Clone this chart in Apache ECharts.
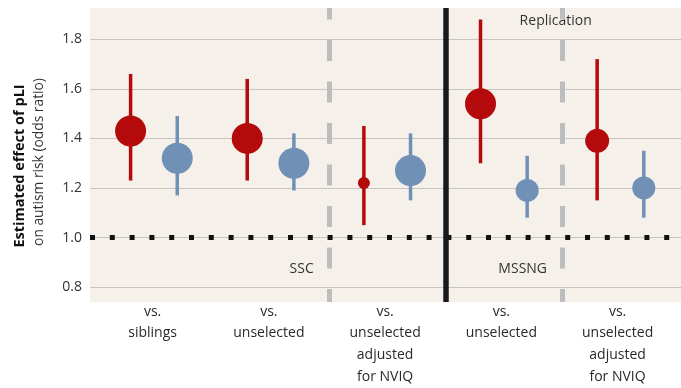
<!DOCTYPE html>
<html><head><meta charset="utf-8">
<script src="https://cdn.jsdelivr.net/npm/echarts@6/dist/echarts.min.js"></script>
<style>html,body{margin:0;padding:0;background:#fff}#c{width:681px;height:388px}</style>
</head><body><div id="c"></div>
<script>
// ---- data ----
const categories = ['vs.\nsiblings', 'vs.\nunselected', 'vs.\nunselected\nadjusted\nfor NVIQ', 'vs.\nunselected', 'vs.\nunselected\nadjusted\nfor NVIQ'];
const redEst  = [1.43, 1.40, 1.22, 1.54, 1.39];
const redLow  = [1.23, 1.23, 1.05, 1.30, 1.15];
const redHigh = [1.66, 1.64, 1.45, 1.88, 1.72];
const blueEst  = [1.32, 1.30, 1.27, 1.19, 1.20];
const blueLow  = [1.17, 1.19, 1.15, 1.08, 1.08];
const blueHigh = [1.49, 1.42, 1.42, 1.33, 1.35];
const yTicks = [0.8, 1.0, 1.2, 1.4, 1.6, 1.8];
const referenceValue = 1.0;
const dashedSeparators = [1.5, 3.5];
const solidSeparators = [2.5];

// ---- styles / layout ----
const Y_MIN = 0.74, Y_MAX = 1.926;
const OFFSET = 0.2;
const redDotSize  = [31, 31, 12, 31, 24];
const blueDotSize = [31, 31, 31, 23, 23];
const RED = '#b40a0c', BLUE = '#7090b6';
const FONT = '"Open Sans", "Noto Sans", sans-serif';

function buildSeriesData(est, low, high, shift) {
  return est.map((v, i) => [i + shift, v, low[i], high[i]]);
}
function makeRender(color, sizes) {
  return function (params, api) {
    const x = api.value(0);
    const p = api.coord([x, api.value(1)]);
    const lo = api.coord([x, api.value(2)]);
    const hi = api.coord([x, api.value(3)]);
    const r = sizes[params.dataIndex] / 2;
    return {
      type: 'group',
      children: [
        { type: 'line', shape: { x1: p[0], y1: lo[1], x2: p[0], y2: hi[1] }, style: { stroke: color, lineWidth: 3.5 } },
        { type: 'circle', shape: { cx: p[0], cy: p[1], r: r }, style: { fill: color } }
      ]
    };
  };
}

const gridLineData = yTicks.map(v => ({ yAxis: v }));
const sepData = [];
dashedSeparators.forEach(x => sepData.push([
  { coord: [x, Y_MAX], lineStyle: { color: '#bdbdbd', width: 5, type: [21, 20.5], dashOffset: 9.5, cap: 'butt' } },
  { coord: [x, Y_MIN] }
]));
solidSeparators.forEach(x => sepData.push([
  { coord: [x, Y_MAX], lineStyle: { color: '#1a1a1a', width: 5.5, type: 'solid' } },
  { coord: [x, Y_MIN] }
]));

const chart = echarts.init(document.getElementById('c'), null, { renderer: 'canvas' });
chart.setOption({
  animation: false,
  grid: [
    { left: 90, right: 0, top: 8, bottom: 86, show: true, backgroundColor: '#f5f1ea', borderWidth: 0, containLabel: false },
    { left: 95.6, right: 2.2, top: 8, bottom: 86, containLabel: false },
    { left: 94.5, right: 5.3, top: 8, bottom: 86, containLabel: false }
  ],
  xAxis: [
    { gridIndex: 0, type: 'value', min: 0, max: 1, show: false },
    { gridIndex: 1, type: 'value', min: -0.5, max: 4.5, show: false },
    { gridIndex: 2, type: 'category', position: 'bottom', data: categories, boundaryGap: true,
      axisLine: { show: false }, axisTick: { show: false }, splitLine: { show: false },
      axisLabel: { interval: 0, margin: 8, lineHeight: 21.8, fontSize: 14, color: '#2a2a2a', fontFamily: FONT } }
  ],
  yAxis: [
    { gridIndex: 0, type: 'value', min: Y_MIN, max: Y_MAX,
      splitLine: { show: false }, axisLine: { show: false }, axisTick: { show: false },
      axisLabel: { margin: 8, fontSize: 14, color: '#333', fontFamily: FONT,
        formatter: v => yTicks.some(t => Math.abs(t - v) < 1e-6) ? v.toFixed(1) : '' } },
    { gridIndex: 1, type: 'value', min: Y_MIN, max: Y_MAX, show: false },
    { gridIndex: 2, type: 'value', min: Y_MIN, max: Y_MAX, show: false }
  ],
  series: [
    { type: 'line', xAxisIndex: 0, yAxisIndex: 0, data: [], z: 1, silent: true,
      markLine: { silent: true, symbol: 'none', label: { show: false }, animation: false,
        lineStyle: { color: '#c8c4be', width: 1.2, type: 'solid' },
        data: gridLineData.concat([{ yAxis: referenceValue, lineStyle: { color: '#111', width: 5, type: [5, 14.8], cap: 'butt' } }]) } },
    { type: 'line', xAxisIndex: 1, yAxisIndex: 1, data: [], z: 2, silent: true,
      markLine: { silent: true, symbol: 'none', label: { show: false }, animation: false, data: sepData } },
    { type: 'custom', name: 'red', xAxisIndex: 1, yAxisIndex: 1, z: 5,
      data: buildSeriesData(redEst, redLow, redHigh, -OFFSET), renderItem: makeRender(RED, redDotSize) },
    { type: 'custom', name: 'blue', xAxisIndex: 1, yAxisIndex: 1, z: 5,
      data: buildSeriesData(blueEst, blueLow, blueHigh, OFFSET), renderItem: makeRender(BLUE, blueDotSize) }
  ],
  graphic: [
    { type: 'text', x: 20, y: 166, rotation: Math.PI / 2,
      style: { text: 'Estimated effect of pLI', fontSize: 14.5, fontWeight: 'bold', fontFamily: FONT, fill: '#111', align: 'center', verticalAlign: 'middle' } },
    { type: 'text', x: 39, y: 162, rotation: Math.PI / 2,
      style: { text: 'on autism risk (odds ratio)', fontSize: 13.8, fontFamily: FONT, fill: '#333', align: 'center', verticalAlign: 'middle' } },
    { type: 'text', x: 301.7, y: 269, style: { text: 'SSC', fontSize: 14, fontFamily: FONT, fill: '#333', align: 'center', verticalAlign: 'middle' } },
    { type: 'text', x: 522.7, y: 269, style: { text: 'MSSNG', fontSize: 14, fontFamily: FONT, fill: '#333', align: 'center', verticalAlign: 'middle' } },
    { type: 'text', x: 555.7, y: 20.7, style: { text: 'Replication', fontSize: 14, fontFamily: FONT, fill: '#333', align: 'center', verticalAlign: 'middle' } }
  ]
});
</script></body></html>
